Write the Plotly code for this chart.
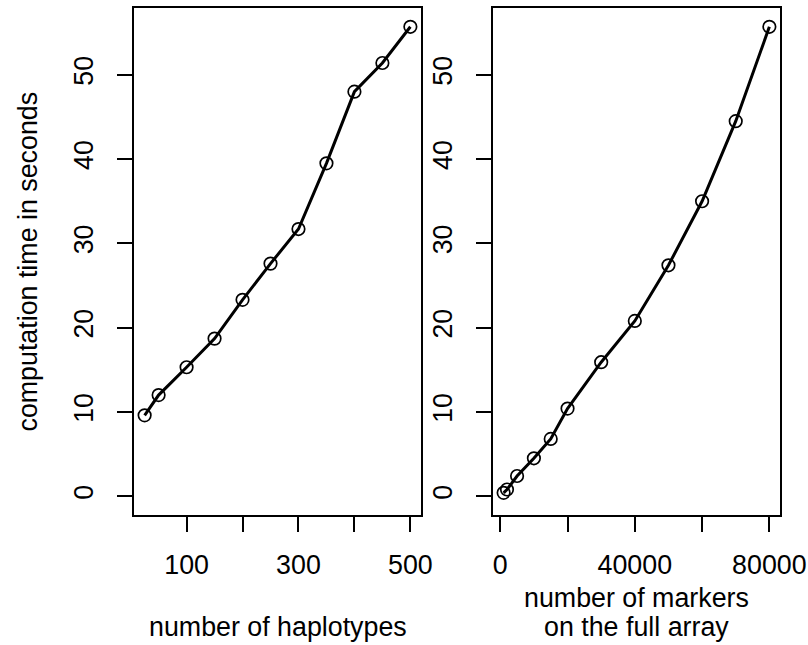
import plotly.graph_objects as go

# Computation time versus number of haplotypes
haplotypes = [25, 50, 100, 150, 200, 250, 300, 350, 400, 450, 500]
time_haplotypes = [9.6, 12.0, 15.3, 18.7, 23.3, 27.6, 31.7, 39.5, 48.0, 51.4, 55.7]

# Computation time versus number of markers on the full array
markers = [1000, 2000, 5000, 10000, 15000, 20000, 30000, 40000, 50000, 60000, 70000, 80000]
time_markers = [0.4, 0.8, 2.4, 4.5, 6.8, 10.4, 15.9, 20.8, 27.4, 35.0, 44.5, 55.7]

y_ticks = [0, 10, 20, 30, 40, 50]
hap_ticks = [100, 200, 300, 400, 500]
hap_labels = ["100", "", "300", "", "500"]
mark_ticks = [0, 20000, 40000, 60000, 80000]
mark_labels = ["0", "", "40000", "", "80000"]

FONT = "Liberation Sans, Arial, sans-serif"
FS = 26.8
W, H = 808, 645


def padded(lo, hi, frac=0.04):
    d = (hi - lo) * frac
    return [lo - d, hi + d]


fig = go.Figure()
for xs, ys, xa, ya in [(haplotypes, time_haplotypes, "x", "y"),
                       (markers, time_markers, "x2", "y2")]:
    fig.add_trace(go.Scatter(
        x=xs, y=ys, xaxis=xa, yaxis=ya, mode="lines+markers",
        line=dict(color="black", width=3),
        marker=dict(symbol="circle-open", size=12.5, color="black",
                    line=dict(color="black", width=1.7)),
        showlegend=False, hoverinfo="skip"))

y_range = padded(0, max(time_haplotypes + time_markers))

axis_common = dict(
    showgrid=False, zeroline=False, showline=True, mirror=True,
    automargin=False,
    linecolor="black", linewidth=1.7, ticks="outside", ticklen=15,
    tickwidth=1.7, tickcolor="black",
    tickfont=dict(family=FONT, size=FS, color="black"))

x1 = (134 / W, 421 / W)
x2 = (493 / W, 780 / W)
yd = ((H - 515) / H, (H - 8) / H)

fig.update_layout(
    width=W, height=H, margin=dict(l=0, r=0, t=0, b=0, autoexpand=False),
    paper_bgcolor="white", plot_bgcolor="white",
    font=dict(family=FONT, size=FS, color="black"),
    xaxis=dict(domain=x1, range=padded(min(haplotypes), max(haplotypes)),
               tickvals=hap_ticks, ticktext=hap_labels, anchor="y",
               ticklabelstandoff=10, **axis_common),
    yaxis=dict(domain=yd, range=y_range, tickvals=y_ticks, tickangle=-90,
               anchor="x", ticklabelstandoff=13, **axis_common),
    xaxis2=dict(domain=x2, range=padded(min(markers), max(markers)),
                tickvals=mark_ticks, ticktext=mark_labels, anchor="y2",
                ticklabelstandoff=10, **axis_common),
    yaxis2=dict(domain=yd, range=y_range, tickvals=y_ticks, tickangle=-90,
                anchor="x2", ticklabelstandoff=13, **axis_common),
)

ann_font = dict(family=FONT, size=FS, color="black")


def label(text, xc, yc_px, angle=0):
    fig.add_annotation(text=text, xref="paper", yref="paper", x=xc,
                       y=1 - yc_px / H, xanchor="center", yanchor="middle",
                       textangle=angle, showarrow=False, font=ann_font)


label("number of haplotypes", (x1[0] + x1[1]) / 2, 627)
label("number of markers", (x2[0] + x2[1]) / 2, 598)
label("on the full array", (x2[0] + x2[1]) / 2, 627)
label("computation time in seconds", 27 / W, 261.5, angle=-90)

fig.write_html("out.html")
